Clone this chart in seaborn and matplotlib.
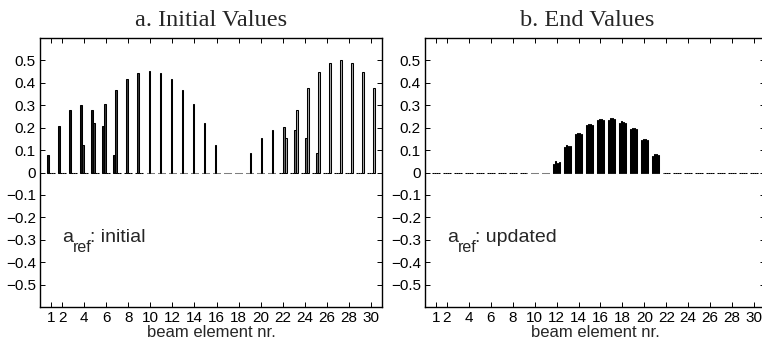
import matplotlib
matplotlib.use("Agg")
import matplotlib.pyplot as plt
import seaborn as sns
import pandas as pd

# ---------------- data ----------------
elements = list(range(1, 31))
series_names = ["s1", "s2", "s3", "s4"]

initial_s1 = [0.080, 0.206, 0.277, 0.303, 0.277, 0.206, 0.080, 0, 0, 0,
              0, 0, 0, 0, 0, 0, 0, 0, 0, 0,
              0, 0, 0, 0, 0, 0, 0, 0, 0, 0]
initial_s2 = [0, 0, 0, 0.122, 0.223, 0.306, 0.370, 0.415, 0.444, 0.454,
              0.444, 0.415, 0.370, 0.306, 0.223, 0.122, 0, 0, 0, 0,
              0, 0, 0, 0, 0, 0, 0, 0, 0, 0]
initial_s3 = [0, 0, 0, 0, 0, 0, 0, 0, 0, 0,
              0, 0, 0, 0, 0, 0, 0, 0, 0.089, 0.152,
              0.189, 0.204, 0.189, 0.152, 0.089, 0, 0, 0, 0, 0]
initial_s4 = [0, 0, 0, 0, 0, 0, 0, 0, 0, 0,
              0, 0, 0, 0, 0, 0, 0, 0, 0, 0,
              0, 0.156, 0.281, 0.378, 0.448, 0.490, 0.503, 0.490, 0.448, 0.378]

end_s1 = [0, 0, 0, 0, 0, 0, 0, 0, 0, 0,
          0, 0.040, 0.112, 0.170, 0.212, 0.232, 0.236, 0.222, 0.192, 0.145,
          0.075, 0, 0, 0, 0, 0, 0, 0, 0, 0]
end_s2 = [0, 0, 0, 0, 0, 0, 0, 0, 0, 0,
          0, 0.052, 0.122, 0.177, 0.218, 0.237, 0.241, 0.228, 0.198, 0.151,
          0.084, 0, 0, 0, 0, 0, 0, 0, 0, 0]
end_s3 = [0, 0, 0, 0, 0, 0, 0, 0, 0, 0,
          0, 0.044, 0.116, 0.174, 0.216, 0.238, 0.242, 0.225, 0.200, 0.150,
          0.082, 0, 0, 0, 0, 0, 0, 0, 0, 0]
end_s4 = [0, 0, 0, 0, 0, 0, 0, 0, 0, 0,
          0, 0.046, 0.117, 0.172, 0.213, 0.235, 0.238, 0.219, 0.194, 0.146,
          0.079, 0, 0, 0, 0, 0, 0, 0, 0, 0]

xtick_values = [1, 2, 4, 6, 8, 10, 12, 14, 16, 18, 20, 22, 24, 26, 28, 30]
ytick_values = [-0.5, -0.4, -0.3, -0.2, -0.1, 0, 0.1, 0.2, 0.3, 0.4, 0.5]
ytick_labels = ["\u22120.5", "\u22120.4", "\u22120.3", "\u22120.2", "\u22120.1",
                "0", "0.1", "0.2", "0.3", "0.4", "0.5"]

titles = ["a. Initial Values", "b. End Values"]
notes = ["initial", "updated"]
xlabel = "beam element nr."

bar_colors = ["#111111", "#3a3a3a", "#6e6e6e", "#a8a8a8"]


def long_frame(s1, s2, s3, s4):
    rows = []
    for name, vals in zip(series_names, [s1, s2, s3, s4]):
        for e, v in zip(elements, vals):
            rows.append({"element": e, "series": name, "value": v})
    return pd.DataFrame(rows)


df_a = long_frame(initial_s1, initial_s2, initial_s3, initial_s4)
df_b = long_frame(end_s1, end_s2, end_s3, end_s4)

# ---------------- style ----------------
sns.set_style("ticks")
plt.rcParams["font.family"] = ["Liberation Sans", "DejaVu Sans"]

W, H = 762, 346
fig = plt.figure(figsize=(W / 100, H / 100), dpi=100)

ax_a = fig.add_axes([40 / W, (H - 307) / H, 342 / W, 269 / H])
ax_b = fig.add_axes([425 / W, (H - 307) / H, 340 / W, 269 / H])

title_x = [0.5, 0.477]

for i, (ax, df) in enumerate([(ax_a, df_a), (ax_b, df_b)]):
    sns.barplot(data=df, x="element", y="value", hue="series",
                hue_order=series_names, palette=bar_colors,
                native_scale=True, width=0.727, gap=0.2,
                edgecolor="black", linewidth=0.75, errorbar=None,
                legend=False, ax=ax)
    ax.set_xlim(0, 31)
    ax.set_ylim(-0.6, 0.6)
    ax.set_xticks(xtick_values)
    ax.set_xticklabels([str(v) for v in xtick_values])
    ax.set_yticks(ytick_values)
    ax.set_yticklabels(ytick_labels)
    ax.tick_params(direction="in", top=True, right=True, length=3.5,
                   width=0.7, labelsize=11, colors="black")
    ax.tick_params(axis="x", pad=3)
    ax.tick_params(axis="y", pad=3)
    for sp in ax.spines.values():
        sp.set_visible(True)
        sp.set_linewidth(1.0)
        sp.set_color("black")
    ax.set_xlabel(xlabel, fontsize=12, labelpad=0)
    ax.set_ylabel("")
    ax.set_title(titles[i], fontsize=17.5, family="Liberation Serif",
                 x=title_x[i], pad=8.5)
    # annotation: a_ref (MATLAB-like deep subscript)
    anchor = (2.0, -0.312)
    ax.annotate("a", xy=anchor, xytext=(0, 0), textcoords="offset pixels",
                fontsize=14, va="baseline", ha="left")
    ax.annotate("ref", xy=anchor, xytext=(11, -10), textcoords="offset pixels",
                fontsize=11.5, va="baseline", ha="left")
    ax.annotate(": " + notes[i], xy=anchor, xytext=(28, 0),
                textcoords="offset pixels", fontsize=14, va="baseline",
                ha="left")

fig.savefig("out.png", dpi=100)
